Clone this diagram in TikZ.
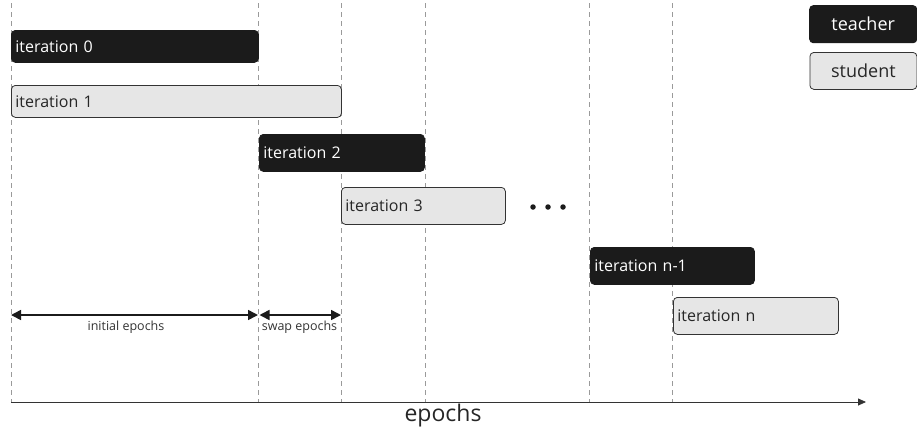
\documentclass[tikz,border=0pt]{standalone}
\usepackage{fontspec}
\setmainfont{Open Sans}
\usetikzlibrary{arrows.meta}
\definecolor{tfill}{HTML}{1B1B1B}
\definecolor{sfill}{HTML}{E6E6E6}
\definecolor{edge}{HTML}{333333}
\definecolor{guide}{HTML}{9A9A9A}
\begin{document}
\begin{tikzpicture}[x=1pt,y=-1pt,
  guideline/.style={draw=guide, dashed, dash pattern=on 5pt off 4pt, line width=0.8pt},
  teacherbox/.style={draw=tfill, fill=tfill, text=white, rounded corners=4pt, line width=0.8pt, anchor=north west, inner xsep=4pt, inner ysep=0pt, align=left, font=\fontsize{16}{18}\selectfont},
  studentbox/.style={draw=edge, fill=sfill, text=black!85, rounded corners=4pt, line width=0.8pt, anchor=north west, inner xsep=4pt, inner ysep=0pt, align=left, font=\fontsize{16}{18}\selectfont},
  legendbox/.style={anchor=north west, inner sep=0pt, align=center, font=\fontsize{18}{20}\selectfont, text width=108pt, minimum height=38pt},
  span/.style={{Triangle[length=10pt,width=10pt]}-{Triangle[length=10pt,width=10pt]}, line width=1.6pt, draw=tfill},
  spanlabel/.style={font=\fontsize{12.5}{14}\selectfont, text=black!80, inner sep=0pt}
]
\useasboundingbox (0,0) rectangle (917,434);
% guide coordinates
\foreach \n/\x in {a/11,b/258,c/341,d/425,e/589,f/672}{
  \coordinate (\n top) at (\x,3);
  \coordinate (\n bot) at (\x,403);
  \draw[guideline] (\n top) -- (\n bot);
}
% boxes
\node[teacherbox, text width=239pt, minimum height=32pt] (it0) at (11,30) {iteration 0};
\node[studentbox, text width=322pt, minimum height=32pt] (it1) at (11,85) {iteration 1};
\node[teacherbox, text width=157pt, minimum height=37pt] (it2) at (259,134) {iteration 2};
\node[studentbox, text width=156pt, minimum height=37pt] (it3) at (341,187) {iteration 3};
\node[teacherbox, text width=156pt, minimum height=37pt] (itn1) at (590,247) {iteration n-1};
\node[studentbox, text width=157pt, minimum height=37pt] (itn) at (673,297) {iteration n};
% legend
\node[legendbox, fill=tfill, text=white, rounded corners=4pt] (teacher) at (809,5) {teacher};
\node[legendbox, draw=edge, line width=0.8pt, fill=sfill, text=black!85, rounded corners=4pt, minimum height=37pt, text width=107pt] (student) at (809.5,52) {student};
% dots
\foreach \n/\x in {d1/533,d2/548,d3/563}{
  \node[circle, fill=tfill, inner sep=0pt, minimum size=5.5pt] (\n) at (\x,207) {};
}
% spans
\coordinate (s0) at (11,315);
\coordinate (s1) at (258,315);
\coordinate (s2) at (259.5,315);
\coordinate (s3) at (341,315);
\draw[span] (s0) -- (s1);
\draw[span] (s2) -- (s3);
\node[spanlabel] (initlab) at (126,327) {initial epochs};
\node[spanlabel] (swaplab) at (299.5,327) {swap epochs};
% axis
\coordinate (ax0) at (11,402);
\coordinate (ax1) at (866,402);
\draw[-{Triangle[length=8pt,width=7pt]}, line width=0.8pt, draw=edge] (ax0) -- (ax1);
\node[font=\fontsize{23}{26}\selectfont, text=black!85] (axlab) at (443,416) {epochs};
\end{tikzpicture}
\end{document}
